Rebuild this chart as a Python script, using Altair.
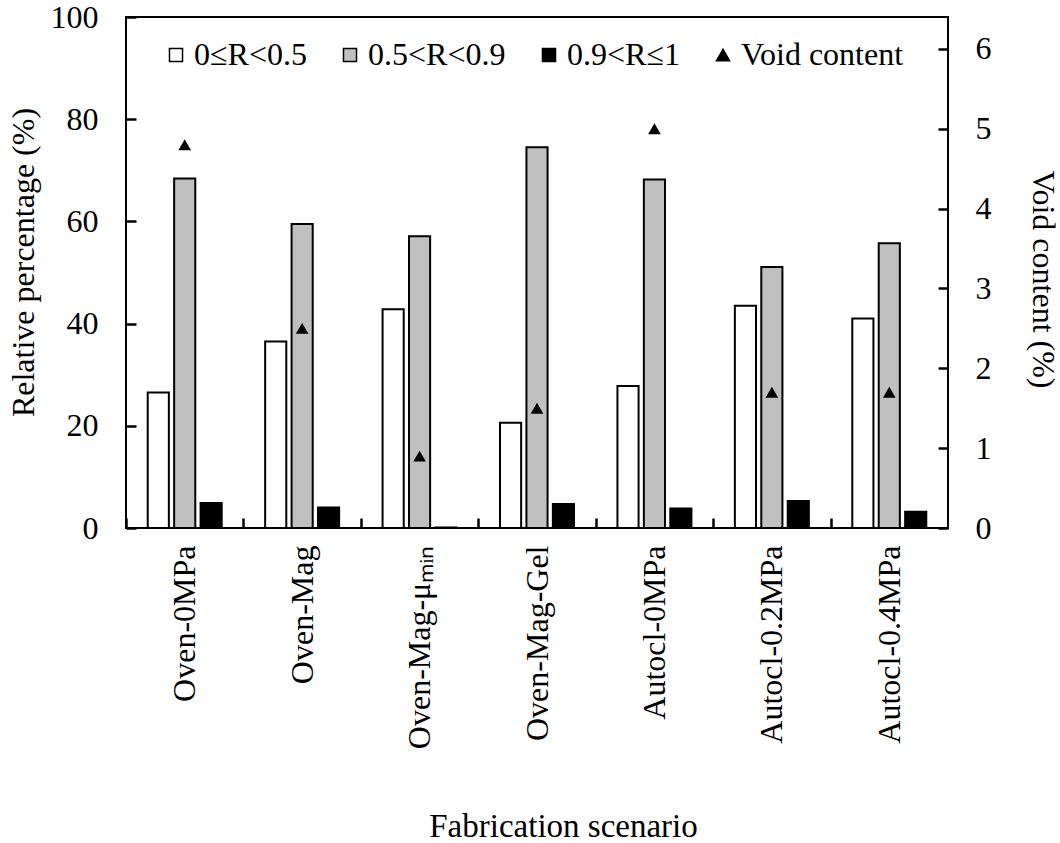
import altair as alt
import pandas as pd

categories = ["Oven-0MPa", "Oven-Mag", "Oven-Mag-μₘᵢₙ", "Oven-Mag-Gel",
              "Autocl-0MPa", "Autocl-0.2MPa", "Autocl-0.4MPa"]
series_names = ["0≤R<0.5", "0.5<R<0.9", "0.9<R≤1"]
low = [26.5, 36.5, 42.8, 20.6, 27.8, 43.5, 41.0]
mid = [68.4, 59.5, 57.1, 74.5, 68.2, 51.1, 55.7]
high = [4.9, 4.0, 0.1, 4.7, 3.8, 5.3, 3.2]
void = [4.8, 2.5, 0.9, 1.5, 5.0, 1.7, 1.7]
void_name = "Void content"

rows = []
for i, c in enumerate(categories):
    for s, vals in zip(series_names, [low, mid, high]):
        rows.append({"scenario": c, "series": s, "value": vals[i]})
bars_df = pd.DataFrame(rows)
void_df = pd.DataFrame({"scenario": categories, "series": void_name, "void": void})

FONT = "Liberation Serif"
FS = 32
W, H = 822, 511
STEP = W / len(categories)
TICK = 10

legend_domain = series_names + [void_name]
color_scale = alt.Scale(domain=legend_domain, range=["#ffffff", "#c0c0c0", "#000000", "#000000"])
shape_scale = alt.Scale(domain=legend_domain, range=["square", "square", "square", "triangle-up"])


def make_legend():
    return alt.Legend(
        title=None, orient="none", legendX=34, legendY=22, direction="horizontal",
        labelFont=FONT, labelFontSize=FS, labelColor="black", symbolSize=170,
        symbolStrokeColor="black", symbolStrokeWidth=1.5, labelOffset=2,
        columnPadding=27, labelLimit=0,
    )


# inward ticks: each axis is moved TICK px into the plot (negative offset),
# so its outward ticks end exactly on the frame
x_enc = alt.X(
    "scenario:N", sort=categories,
    scale=alt.Scale(paddingInner=0.37, paddingOuter=0.185),
    axis=alt.Axis(
        title="Fabrication scenario", titleFont=FONT, titleFontSize=33,
        titleFontWeight="normal", titleColor="black", titleY=308 + TICK, titleX=437,
        titleAlign="center", titleBaseline="alphabetic",
        labelAngle=-90, labelAlign="right", labelBaseline="middle",
        labelFont=FONT, labelFontSize=FS, labelColor="black", labelPadding=17,
        labelLimit=0, tickOffset=-STEP / 2, labelOffset=STEP / 2,
        offset=-TICK, ticks=True, tickSize=TICK, tickWidth=2.5, tickColor="black",
        tickOpacity=1, domain=False, grid=False, zindex=2,
    ),
)

bars = alt.Chart(bars_df).mark_bar(stroke="black", strokeWidth=2).encode(
    x=x_enc,
    xOffset=alt.XOffset("series:N", sort=series_names,
                        scale=alt.Scale(domain=series_names, paddingInner=0.2, paddingOuter=0)),
    y=alt.Y("value:Q", scale=alt.Scale(domain=[0, 100], nice=False),
            axis=alt.Axis(
                title="Relative percentage (%)", values=[0, 20, 40, 60, 80, 100],
                titleFont=FONT, titleFontSize=FS, titleFontWeight="normal",
                titleColor="black", titleAngle=-90, titleX=-93 - TICK, titleY=245,
                titleBaseline="alphabetic", titleAlign="center",
                labelFont=FONT, labelFontSize=FS, labelColor="black", labelPadding=28,
                offset=-TICK, ticks=True, tickSize=TICK, tickWidth=2.5, tickColor="black",
                tickOpacity=1, domain=False, grid=False, zindex=2,
            )),
    color=alt.Color("series:N", scale=color_scale, legend=make_legend()),
)

points = alt.Chart(void_df).mark_point(filled=True, size=160, opacity=1).encode(
    x=alt.X("scenario:N", sort=categories),
    y=alt.Y("void:Q", scale=alt.Scale(domain=[0, 6.4], nice=False),
            axis=alt.Axis(
                title="Void content (%)", orient="right", values=[0, 1, 2, 3, 4, 5, 6],
                titleFont=FONT, titleFontSize=FS, titleFontWeight="normal",
                titleColor="black", titleAngle=90, titleX=84 + TICK, titleY=262,
                titleBaseline="alphabetic", titleAlign="center",
                labelFont=FONT, labelFontSize=FS, labelColor="black", labelPadding=27,
                offset=-TICK, ticks=True, tickSize=TICK, tickWidth=2.5, tickColor="black",
                tickOpacity=1, domain=False, grid=False, zindex=2,
            )),
    color=alt.Color("series:N", scale=color_scale, legend=make_legend()),
    shape=alt.Shape("series:N", scale=shape_scale, legend=make_legend()),
)

chart = alt.layer(bars, points).resolve_scale(y="independent").properties(
    width=W, height=H,
    autosize=alt.AutoSizeParams(type="none"),
    padding={"left": 126, "top": 17, "right": 112, "bottom": 315},
    background="white",
).configure_view(stroke="black", strokeWidth=2)

chart.save("out.html", embed_options={"renderer": "svg", "actions": False})
